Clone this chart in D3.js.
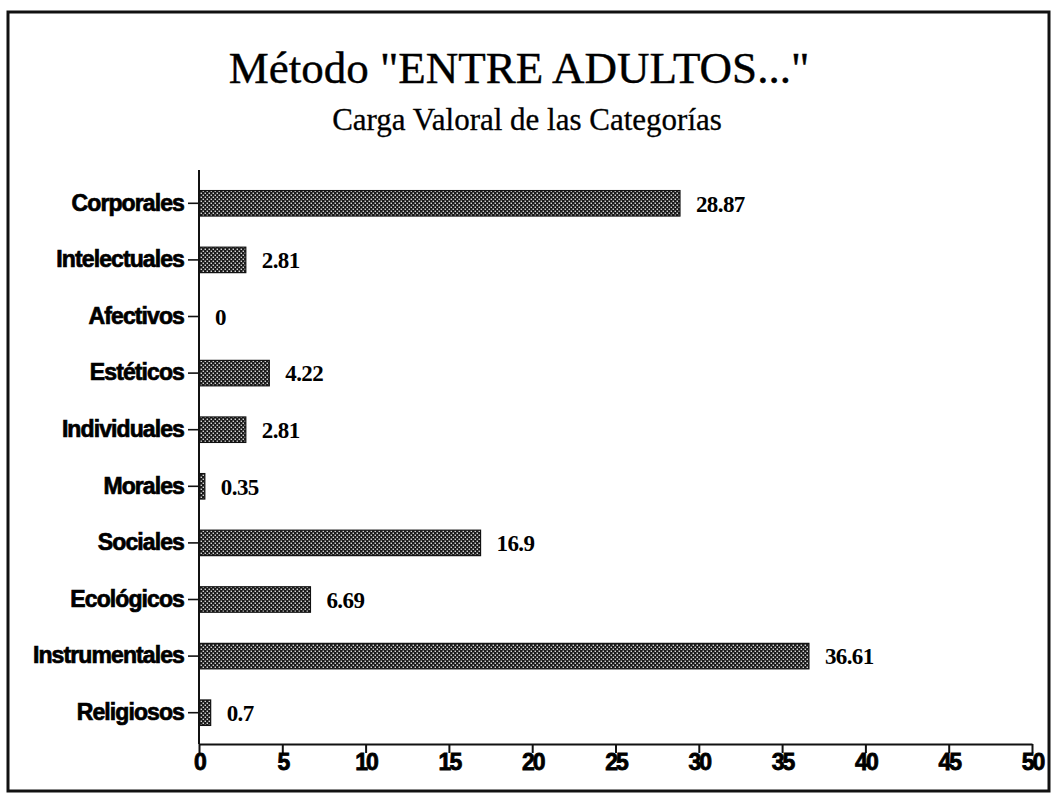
<!DOCTYPE html>
<html>
<head>
<meta charset="utf-8">
<script src="https://cdn.jsdelivr.net/npm/d3@7"></script>
<style>
  body { margin: 0; background: #fff; }
  .cat { font-family: "Liberation Sans", Arial, sans-serif; font-weight: bold; font-size: 23px; letter-spacing: -0.9px; stroke: #000; stroke-width: 0.7px; }
  .tick-x { font-family: "Liberation Sans", Arial, sans-serif; font-weight: bold; font-size: 23px; letter-spacing: -2px; stroke: #000; stroke-width: 0.8px; }
  .val { font-family: "Liberation Serif", "Times New Roman", serif; font-weight: bold; font-size: 23px; letter-spacing: -0.6px; }
  .title { font-family: "Liberation Serif", "Times New Roman", serif; stroke: #000; stroke-width: 0.4px; }
</style>
</head>
<body>
<div id="chart"></div>
<script>
// categories, top to bottom
const categories = ["Corporales", "Intelectuales", "Afectivos", "Estéticos", "Individuales",
                    "Morales", "Sociales", "Ecológicos", "Instrumentales", "Religiosos"];
// values as printed next to each bar
const values = [28.87, 2.81, 0, 4.22, 2.81, 0.35, 16.9, 6.69, 36.61, 0.7];
const valueLabels = ["28.87", "2.81", "0", "4.22", "2.81", "0.35", "16.9", "6.69", "36.61", "0.7"];
const xTicks = [0, 5, 10, 15, 20, 25, 30, 35, 40, 45, 50];

const titleText = "Método \"ENTRE ADULTOS...\"";
const subtitleText = "Carga Valoral de las Categorías";

const W = 1053, H = 806;
const axisY = 744;

const svg = d3.select("#chart").append("svg")
    .attr("width", W)
    .attr("height", H);

// dotted fill like the old print pattern
const defs = svg.append("defs");
const pat = defs.append("pattern")
    .attr("id", "dots")
    .attr("width", 4).attr("height", 4)
    .attr("patternUnits", "userSpaceOnUse");
pat.append("rect").attr("width", 4).attr("height", 4).attr("fill", "#1a1a1a");
pat.append("rect").attr("x", 0.6).attr("y", 0.6).attr("width", 1.3).attr("height", 1.3).attr("fill", "#fff");
pat.append("rect").attr("x", 2.6).attr("y", 2.6).attr("width", 1.3).attr("height", 1.3).attr("fill", "#fff");

// frame
svg.append("rect")
    .attr("x", 8).attr("y", 12)
    .attr("width", 1041).attr("height", 779)
    .attr("fill", "none")
    .attr("stroke", "#111")
    .attr("stroke-width", 3);

// titles
svg.append("text")
    .attr("class", "title")
    .attr("x", 519).attr("y", 83)
    .attr("text-anchor", "middle")
    .style("font-size", "45px")
    .text(titleText);

svg.append("text")
    .attr("class", "title")
    .attr("x", 527).attr("y", 130)
    .attr("text-anchor", "middle")
    .style("font-size", "31px")
    .style("stroke-width", "0.3px")
    .text(subtitleText);

// scales
const x = d3.scaleLinear()
    .domain([0, 50])
    .range([199, 1032]);

const y = d3.scaleBand()
    .domain(categories)
    .range([175, 741])
    .paddingInner(0.55)
    .paddingOuter(0.275);

// bars
svg.selectAll(".bar")
    .data(categories)
    .join("rect")
        .attr("class", "bar")
        .attr("x", x(0))
        .attr("y", d => y(d))
        .attr("width", (d, i) => x(values[i]) - x(0))
        .attr("height", y.bandwidth())
        .attr("fill", "url(#dots)")
        .attr("stroke", (d, i) => values[i] > 0 ? "#111" : "none")
        .attr("stroke-width", 1.2);

// value labels
svg.selectAll(".val")
    .data(categories)
    .join("text")
        .attr("class", "val")
        .attr("x", (d, i) => x(values[i]) + 16)
        .attr("y", d => y(d) + y.bandwidth() / 2)
        .attr("dy", "0.36em")
        .text((d, i) => valueLabels[i]);

// y axis
const yAxis = svg.append("g")
    .attr("transform", `translate(${x(0)},0)`)
    .call(d3.axisLeft(y).tickSize(11).tickPadding(4));
yAxis.select(".domain").remove();
yAxis.append("line")
    .attr("x1", 0).attr("x2", 0)
    .attr("y1", 170).attr("y2", axisY)
    .attr("stroke", "#111").attr("stroke-width", 2);
yAxis.selectAll(".tick line").attr("stroke", "#111").attr("stroke-width", 1.6);
yAxis.selectAll(".tick text").attr("class", "cat").attr("fill", "#000");

// x axis
const xAxis = svg.append("g")
    .attr("transform", `translate(0,${axisY})`)
    .call(d3.axisBottom(x).tickValues(xTicks).tickSize(9).tickSizeOuter(0).tickPadding(1));
xAxis.select(".domain").attr("stroke", "#111").attr("stroke-width", 2);
xAxis.selectAll(".tick line").attr("stroke", "#111").attr("stroke-width", 2);
xAxis.selectAll(".tick text").attr("class", "tick-x").attr("fill", "#000");
</script>
</body>
</html>
